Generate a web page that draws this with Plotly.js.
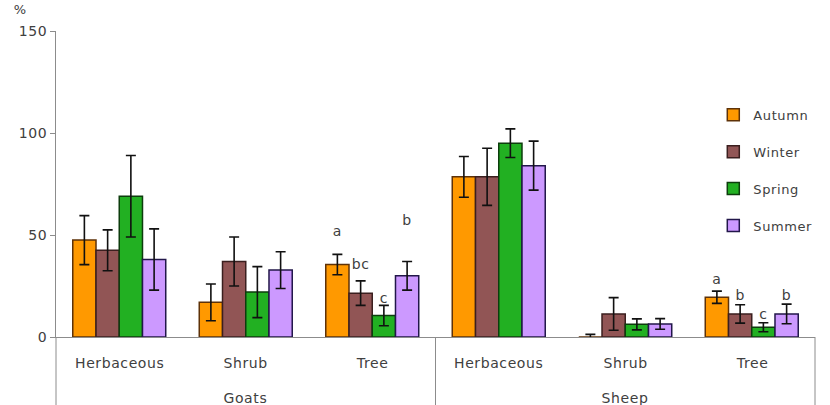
<!DOCTYPE html>
<html>
<head>
<meta charset="utf-8">
<script src="https://cdn.plot.ly/plotly-3.0.1.min.js"></script>
<style>
  html, body { margin: 0; padding: 0; background: #ffffff; }
  #chart { width: 830px; height: 405px; }
  #chart text { letter-spacing: 0.6px; }
</style>
</head>
<body>
<div id="chart"></div>
<script>
// Animal groups and plant types (two-level category axis)
const animals = ['Goats', 'Goats', 'Goats', 'Sheep', 'Sheep', 'Sheep'];
const plantTypes = ['Herbaceous', 'Shrub', 'Tree', 'Herbaceous', 'Shrub', 'Tree'];
const animalGroups = ['Goats', 'Sheep'];

// Seasonal means (%) and their error margins
const seasons = ['Autumn', 'Winter', 'Spring', 'Summer'];
const autumn = [47.5, 17, 35.5, 78.5, 0, 19.5];
const autumnErr = [12, 9, 5, 10, 1.3, 3];
const winter = [42.5, 37, 21.5, 78.5, 11.3, 11.3];
const winterErr = [10, 12, 6, 14, 8, 4.5];
const spring = [69, 22, 10.5, 95, 6.2, 4.8];
const springErr = [20, 12.5, 5, 7, 2.7, 2.2];
const summer = [38, 32.8, 30, 84, 6.4, 11.3];
const summerErr = [15, 9, 7, 12, 2.6, 4.8];

// Significance letters and the height they sit at
const autumnLetters = ['', '', 'a', '', '', 'a'];
const autumnLetterY = [null, null, 51, null, null, 27.5];
const winterLetters = ['', '', 'bc', '', '', 'b'];
const winterLetterY = [null, null, 35, null, null, 20];
const springLetters = ['', '', 'c', '', '', 'c'];
const springLetterY = [null, null, 18.5, null, null, 10.5];
const summerLetters = ['', '', 'b', '', '', 'b'];
const summerLetterY = [null, null, 56.5, null, null, 19.8];

// Y-axis ticks
const yTicks = [0, 50, 100, 150];

const fills = ['#FF9900', '#915555', '#22B022', '#CC99FF'];
const outlines = ['#5e3208', '#3b1f1f', '#0d3d0d', '#22174a'];
const textColor = '#404040';
const axisColor = '#8c8c8c';
const fontFamily = 'DejaVu Sans, sans-serif';

const values = [autumn, winter, spring, summer];
const errors = [autumnErr, winterErr, springErr, summerErr];
const letters = [autumnLetters, winterLetters, springLetters, summerLetters];
const letterY = [autumnLetterY, winterLetterY, springLetterY, summerLetterY];

const xCats = [animals, plantTypes];
const traces = [];

seasons.forEach((name, i) => {
  traces.push({
    type: 'bar',
    name: name,
    x: xCats,
    y: values[i],
    offsetgroup: String(i),
    legendgroup: name,
    marker: { color: fills[i], line: { color: outlines[i], width: 1.5 } },
    error_y: { type: 'data', array: errors[i], visible: true, color: '#111111', thickness: 1.6, width: 5 },
    hoverinfo: 'skip'
  });
});

// Letter labels, grouped the same way as the bars
seasons.forEach((name, i) => {
  traces.push({
    type: 'scatter',
    mode: 'text',
    x: xCats,
    y: letterY[i],
    text: letters[i],
    offsetgroup: String(i),
    textfont: { family: fontFamily, size: 14, color: textColor },
    textposition: 'middle center',
    showlegend: false,
    hoverinfo: 'skip',
    cliponaxis: false
  });
});

// Category table under the axis: plant-type row, animal row and dividers
const nCats = plantTypes.length;
const annotations = [];
plantTypes.forEach((label, i) => {
  annotations.push({
    text: label, xref: 'paper', yref: 'paper',
    x: (i + 0.5) / nCats, y: -0.085,
    xanchor: 'center', yanchor: 'middle', showarrow: false,
    font: { family: fontFamily, size: 14, color: textColor }
  });
});
animalGroups.forEach((label, g) => {
  annotations.push({
    text: label, xref: 'paper', yref: 'paper',
    x: (g + 0.5) / animalGroups.length, y: -0.2,
    xanchor: 'center', yanchor: 'middle', showarrow: false,
    font: { family: fontFamily, size: 14, color: textColor }
  });
});
annotations.push({
  text: '%', xref: 'paper', yref: 'paper',
  x: -0.047, y: 1.07,
  xanchor: 'center', yanchor: 'middle', showarrow: false,
  font: { family: fontFamily, size: 13, color: textColor }
});

const shapes = [];
for (let g = 0; g <= animalGroups.length; g++) {
  shapes.push({
    type: 'line', xref: 'paper', yref: 'paper',
    x0: g / animalGroups.length, x1: g / animalGroups.length,
    y0: 0, y1: -0.3,
    line: { color: axisColor, width: 1 }
  });
}

const layout = {
  width: 830,
  height: 405,
  margin: { l: 56, r: 15, t: 31, b: 68 },
  paper_bgcolor: '#ffffff',
  plot_bgcolor: '#ffffff',
  barmode: 'group',
  bargap: 0.265,
  bargroupgap: 0,
  scattermode: 'group',
  scattergap: 0.265,
  font: { family: fontFamily, size: 14, color: textColor },
  xaxis: {
    type: 'multicategory',
    showline: true,
    linecolor: axisColor,
    linewidth: 1,
    showgrid: false,
    zeroline: false,
    ticks: '',
    showticklabels: false,
    showdividers: false
  },
  yaxis: {
    range: [0, 150],
    tickvals: yTicks,
    ticks: 'outside',
    ticklen: 5,
    tickcolor: axisColor,
    showline: true,
    linecolor: axisColor,
    linewidth: 1,
    showgrid: false,
    zeroline: false,
    tickfont: { family: fontFamily, size: 14, color: textColor }
  },
  legend: {
    x: 0.866,
    y: 0.775,
    xanchor: 'left',
    yanchor: 'top',
    bgcolor: 'rgba(0,0,0,0)',
    itemwidth: 30,
    tracegroupgap: 17,
    font: { family: fontFamily, size: 13, color: textColor }
  },
  annotations: annotations,
  shapes: shapes,
  showlegend: true
};

Plotly.newPlot('chart', traces, layout, { displayModeBar: false, staticPlot: true });
</script>
</body>
</html>
